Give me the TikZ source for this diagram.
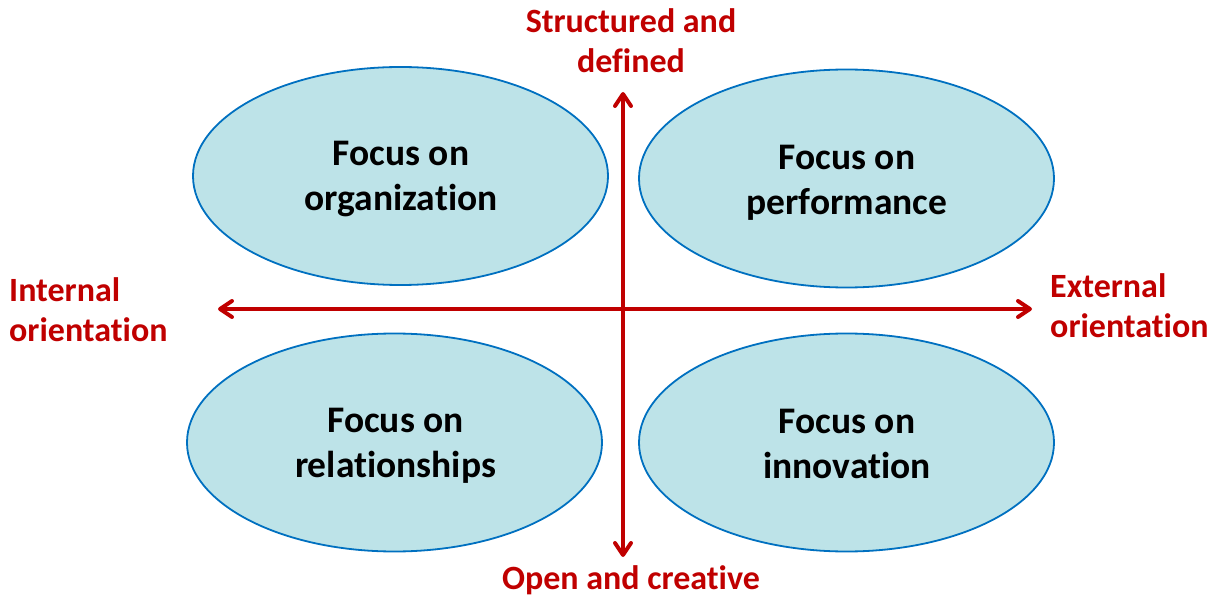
\documentclass[tikz,border=0pt]{standalone}
\usepackage{fontspec}
\setmainfont[Ligatures={NoCommon,NoContextual},Contextuals={NoAlternate}]{Carlito}
\usetikzlibrary{shapes.geometric,arrows.meta}
\definecolor{axisred}{RGB}{192,0,0}
\definecolor{ovalfill}{RGB}{189,227,232}
\definecolor{ovalline}{RGB}{0,112,192}
\begin{document}
\begin{tikzpicture}[x=1pt,y=-1pt,
  oval/.style={ellipse, draw=ovalline, line width=1.8pt, fill=ovalfill,
    minimum width=415pt, minimum height=218pt, inner sep=0pt},
  ovaltext/.style={inner sep=0pt, align=center,
    font=\fontsize{37.5}{45}\selectfont\bfseries},
  axlabel/.style={text=axisred, inner sep=0pt,
    font=\fontsize{34}{40}\selectfont\bfseries},
  axisarrow/.style={draw=axisred, line width=4pt,
    {Straight Barb[length=12pt,width=16pt,line cap=round,line join=round]}-{Straight Barb[length=12pt,width=16pt,line cap=round,line join=round]}}]
\useasboundingbox (0,0) rectangle (1216,596);
% ovals
\node[oval] (org) at (400.5,176) {};
\node[oval] (perf) at (846.5,178.5) {};
\node[oval] (rel) at (394.5,442.5) {};
\node[oval] (inno) at (846.5,442.5) {};
\node[ovaltext] (orgT) at (401,179.5) {Focus on\\organization};
\node[ovaltext] (perfT) at (847,183) {Focus on\\performance};
\node[ovaltext] (relT) at (395.5,446) {Focus on\\relationships};
\node[ovaltext] (innoT) at (847,443.5) {Focus on\\innovation};
% axis ends
\coordinate (axL) at (218,309);
\coordinate (axR) at (1032,309);
\coordinate (axT) at (623,92);
\coordinate (axB) at (623,557);
\draw[axisarrow] (axL) -- (axR);
\draw[axisarrow] (axB) -- (axT);
% labels
\node[axlabel, align=center] (lblTop) at (631,41) {Structured and\\defined};
\node[axlabel, anchor=base] (lblBot) at (631,589) {Open and creative};
\node[axlabel, align=left, anchor=west] (lblLeft) at (9,310) {Internal\\orientation};
\node[axlabel, align=left, anchor=west] (lblRight) at (1050,305.5) {External\\orientation};
\end{tikzpicture}
\end{document}
